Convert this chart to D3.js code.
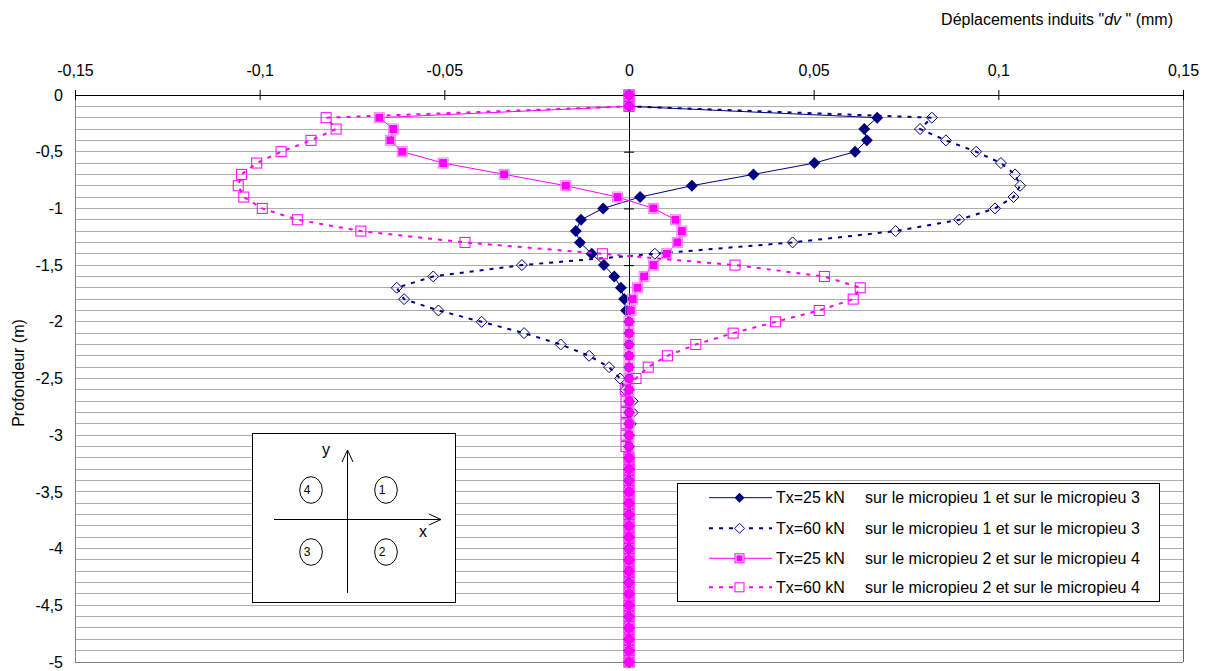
<!DOCTYPE html>
<html><head><meta charset="utf-8">
<script src="https://cdn.jsdelivr.net/npm/d3@7"></script>
<style>
body{margin:0;background:#fff;}
text{font-family:"Liberation Sans",Arial,sans-serif;}
</style></head>
<body><svg id="c" width="1213" height="671"></svg>
<script>
const depths = [0,-0.1,-0.2,-0.3,-0.4,-0.5,-0.6,-0.7,-0.8,-0.9,-1,-1.1,-1.2,-1.3,-1.4,-1.5,-1.6,-1.7,-1.8,-1.9,-2,-2.1,-2.2,-2.3,-2.4,-2.5,-2.6,-2.7,-2.8,-2.9,-3,-3.1,-3.2,-3.3,-3.4,-3.5,-3.6,-3.7,-3.8,-3.9,-4,-4.1,-4.2,-4.3,-4.4,-4.5,-4.6,-4.7,-4.8,-4.9,-5];
// Tx=25 kN, micropieux 1 et 3
const s25_13 = [0,0,0.0672,0.0637,0.0644,0.0612,0.0502,0.0337,0.017,0.003,-0.007,-0.013,-0.0144,-0.0133,-0.0101,-0.0068,-0.004,-0.0022,-0.0013,-0.0008,0,0,0,0,0,0,0,0,0,0,0,0,0,0,0,0,0,0,0,0,0,0,0,0,0,0,0,0,0,0,0];
// Tx=60 kN, micropieux 1 et 3
const s60_13 = [0,0,0.082,0.0788,0.0858,0.094,0.1007,0.1045,0.1059,0.1041,0.0991,0.0894,0.0722,0.0443,0.007,-0.029,-0.053,-0.0629,-0.0609,-0.0516,-0.0399,-0.0284,-0.0185,-0.0108,-0.0054,-0.0024,-0.001,0.001,0.001,0.0005,0,0,0,0,0,0,0,0,0,0,0,0,0,0,0,0,0,0,0,0,0];
// Tx=25 kN, micropieux 2 et 4
const s25_24 = [0,0,-0.0676,-0.0638,-0.0646,-0.0614,-0.0503,-0.0338,-0.0171,-0.0031,0.0066,0.0126,0.0143,0.0131,0.0102,0.0066,0.0041,0.0023,0.001,0.0005,0,0,0,0,0,0,0,0,0,0,0,0,0,0,0,0,0,0,0,0,0,0,0,0,0,0,0,0,0,0,0];
// Tx=60 kN, micropieux 2 et 4
const s60_24 = [0,0,-0.082,-0.0793,-0.0861,-0.0942,-0.1008,-0.1049,-0.1058,-0.1043,-0.0993,-0.0898,-0.0726,-0.0444,-0.0072,0.0287,0.0529,0.0626,0.0607,0.0515,0.0397,0.0282,0.0181,0.0104,0.0052,0.0019,-0.001,-0.0008,-0.0008,-0.0008,-0.0008,-0.0008,0,0,0,0,0,0,0,0,0,0,0,0,0,0,0,0,0,0,0];
const xTicks = [-0.15,-0.1,-0.05,0,0.05,0.1,0.15];
const yTicks = [0,-0.5,-1,-1.5,-2,-2.5,-3,-3.5,-4,-4.5,-5];
const loads = ["Tx=25 kN","Tx=60 kN","Tx=25 kN","Tx=60 kN"];
const piles = ["sur le micropieu 1 et sur le micropieu 3","sur le micropieu 1 et sur le micropieu 3","sur le micropieu 2 et sur le micropieu 4","sur le micropieu 2 et sur le micropieu 4"];

const svg = d3.select("#c");
const L=75, R=1183, T=95, B=662;
const FS=16;
const x = d3.scaleLinear().domain([-0.15,0.15]).range([L,R]);
const y = d3.scaleLinear().domain([0,-5]).range([T,B]);
const fmt = d => String(+d.toFixed(3)).replace(".", ",");

// horizontal grid every 0.1
svg.append("g").selectAll("line").data(depths.slice(1,-1)).join("line")
  .attr("x1",L).attr("x2",R).attr("y1",d=>y(d)).attr("y2",d=>y(d))
  .attr("stroke","#acacac").attr("stroke-width",1).attr("shape-rendering","crispEdges");
// frame
svg.append("line").attr("x1",L).attr("x2",L).attr("y1",T).attr("y2",B).attr("stroke","#808090").attr("shape-rendering","crispEdges");
svg.append("line").attr("x1",R).attr("x2",R).attr("y1",T).attr("y2",B).attr("stroke","#606070").attr("shape-rendering","crispEdges");
svg.append("line").attr("x1",L).attr("x2",R).attr("y1",B).attr("y2",B).attr("stroke","#808090").attr("shape-rendering","crispEdges");

// top axis
const xa = svg.append("g").attr("transform",`translate(0,${T})`)
  .call(d3.axisTop(x).tickValues(xTicks).tickFormat(fmt).tickSize(5).tickPadding(14));
xa.select(".domain").attr("stroke","#000");
xa.selectAll(".tick line").attr("y2",5).attr("y1",-5).attr("stroke","#000");
xa.selectAll("text").attr("font-size",FS).attr("fill","#000").attr("font-family","Liberation Sans, Arial");

// vertical zero axis with ticks
const ya = svg.append("g").attr("transform",`translate(${x(0)},0)`)
  .call(d3.axisLeft(y).tickValues(yTicks).tickFormat("").tickSize(5));
ya.select(".domain").attr("stroke","#000");
ya.selectAll(".tick line").attr("x1",5).attr("x2",-5).attr("stroke","#000");
// y tick labels on the left
svg.append("g").selectAll("text").data(yTicks).join("text")
  .attr("x",63).attr("y",d=>y(d)).attr("dy","0.35em").attr("text-anchor","end")
  .attr("font-size",FS).text(fmt);

// titles
const t = svg.append("text").attr("x",1173).attr("y",25).attr("text-anchor","end").attr("font-size",FS);
t.append("tspan").text("Déplacements induits \"");
t.append("tspan").attr("font-style","italic").text("dv");
t.append("tspan").text(" \" (mm)");
svg.append("text").attr("transform","translate(24,373) rotate(-90)").attr("text-anchor","middle").attr("font-size",FS).text("Profondeur (m)");

// series
const NAVY="#000080", MAG="#ff00ff";
const series = [
  {vals:s25_13,color:NAVY,dash:null,w:1,marker:"fdiam"},
  {vals:s60_13,color:NAVY,dash:"4,6",w:2,marker:"odiam"},
  {vals:s25_24,color:MAG,dash:null,w:1,marker:"fsq"},
  {vals:s60_24,color:MAG,dash:"4,6",w:2,marker:"osq"}
];
function drawMarker(g,type,color){
  if(type==="fdiam") g.append("path").attr("d","M0,-6L6,0L0,6L-6,0Z").attr("fill",color);
  if(type==="odiam") g.append("path").attr("d","M0,-5.5L5.5,0L0,5.5L-5.5,0Z").attr("fill","none").attr("stroke",color).attr("stroke-width",1);
  if(type==="fsq") { g.append("rect").attr("x",-5).attr("y",-5).attr("width",10).attr("height",10).attr("fill","none").attr("stroke","#ff77ff");
                     g.append("rect").attr("x",-4).attr("y",-4).attr("width",8).attr("height",8).attr("fill",color); }
  if(type==="osq") g.append("rect").attr("x",-5).attr("y",-5).attr("width",10).attr("height",10).attr("fill","none").attr("stroke",color).attr("stroke-width",1);
}
const line = d3.line().x(d=>x(d[0])).y(d=>y(d[1]));
series.forEach(s=>{
  const pts = s.vals.map((v,i)=>[v,depths[i]]);
  svg.append("path").attr("d",line(pts)).attr("fill","none").attr("stroke",s.color)
    .attr("stroke-width",s.w).attr("stroke-dasharray",s.dash);
  const mg = svg.append("g");
  pts.forEach(p=>{ const g=mg.append("g").attr("transform",`translate(${x(p[0])},${y(p[1])})`); drawMarker(g,s.marker,s.color); });
});

// legend
const lg = svg.append("g");
lg.append("rect").attr("x",677.5).attr("y",483.5).attr("width",482).attr("height",118).attr("fill","#fff").attr("stroke","#000");
const rowsY=[497.7,528.3,558.3,587.3];
series.forEach((s,i)=>{
  lg.append("line").attr("x1",709).attr("x2",772).attr("y1",rowsY[i]).attr("y2",rowsY[i])
    .attr("stroke",s.color).attr("stroke-width",s.w).attr("stroke-dasharray",s.dash);
  const g = lg.append("g").attr("transform",`translate(739.5,${rowsY[i]})`);
  if(s.marker==="fsq"){ g.append("rect").attr("x",-4.5).attr("y",-4.5).attr("width",9).attr("height",9).attr("fill","#fff").attr("stroke",MAG);
    g.append("rect").attr("x",-3).attr("y",-3).attr("width",6).attr("height",6).attr("fill",MAG);}
  else if(s.marker==="osq"){ g.append("rect").attr("x",-4.5).attr("y",-4.5).attr("width",9).attr("height",9).attr("fill","#fff").attr("stroke",MAG);}
  else if(s.marker==="odiam"){ g.append("path").attr("d","M0,-5L5,0L0,5L-5,0Z").attr("fill","#fff").attr("stroke",NAVY);}
  else g.append("path").attr("d","M0,-5L5,0L0,5L-5,0Z").attr("fill",NAVY);
  lg.append("text").attr("x",776).attr("y",rowsY[i]).attr("dy","0.35em").attr("font-size",FS).text(loads[i]);
  lg.append("text").attr("x",865).attr("y",rowsY[i]).attr("dy","0.35em").attr("font-size",FS).text(piles[i]);
});

// inset sketch
const ins = svg.append("g");
ins.append("rect").attr("x",252.5).attr("y",433.5).attr("width",203).attr("height",169).attr("fill","#fff").attr("stroke","#000");
ins.append("line").attr("x1",347.5).attr("x2",347.5).attr("y1",593).attr("y2",450).attr("stroke","#000");
ins.append("path").attr("d","M342,462L347.5,450L353,462").attr("fill","none").attr("stroke","#000");
ins.append("line").attr("x1",274).attr("x2",441).attr("y1",519.5).attr("y2",519.5).attr("stroke","#000");
ins.append("path").attr("d","M429,514L441,519.5L429,525").attr("fill","none").attr("stroke","#000");
ins.append("text").attr("x",326).attr("y",455).attr("font-size",FS).attr("text-anchor","middle").text("y");
ins.append("text").attr("x",423).attr("y",537).attr("font-size",FS).attr("text-anchor","middle").text("x");
[["4",311,490],["1",386,490],["3",311,552],["2",386,552]].forEach(d=>{
  ins.append("ellipse").attr("cx",d[1]).attr("cy",d[2]).attr("rx",11.3).attr("ry",13.3).attr("fill","none").attr("stroke","#000");
  ins.append("text").attr("x",d[1]-4).attr("y",d[2]).attr("dy","0.35em").attr("font-size",12).attr("text-anchor","middle").text(d[0]);
});
</script></body></html>
